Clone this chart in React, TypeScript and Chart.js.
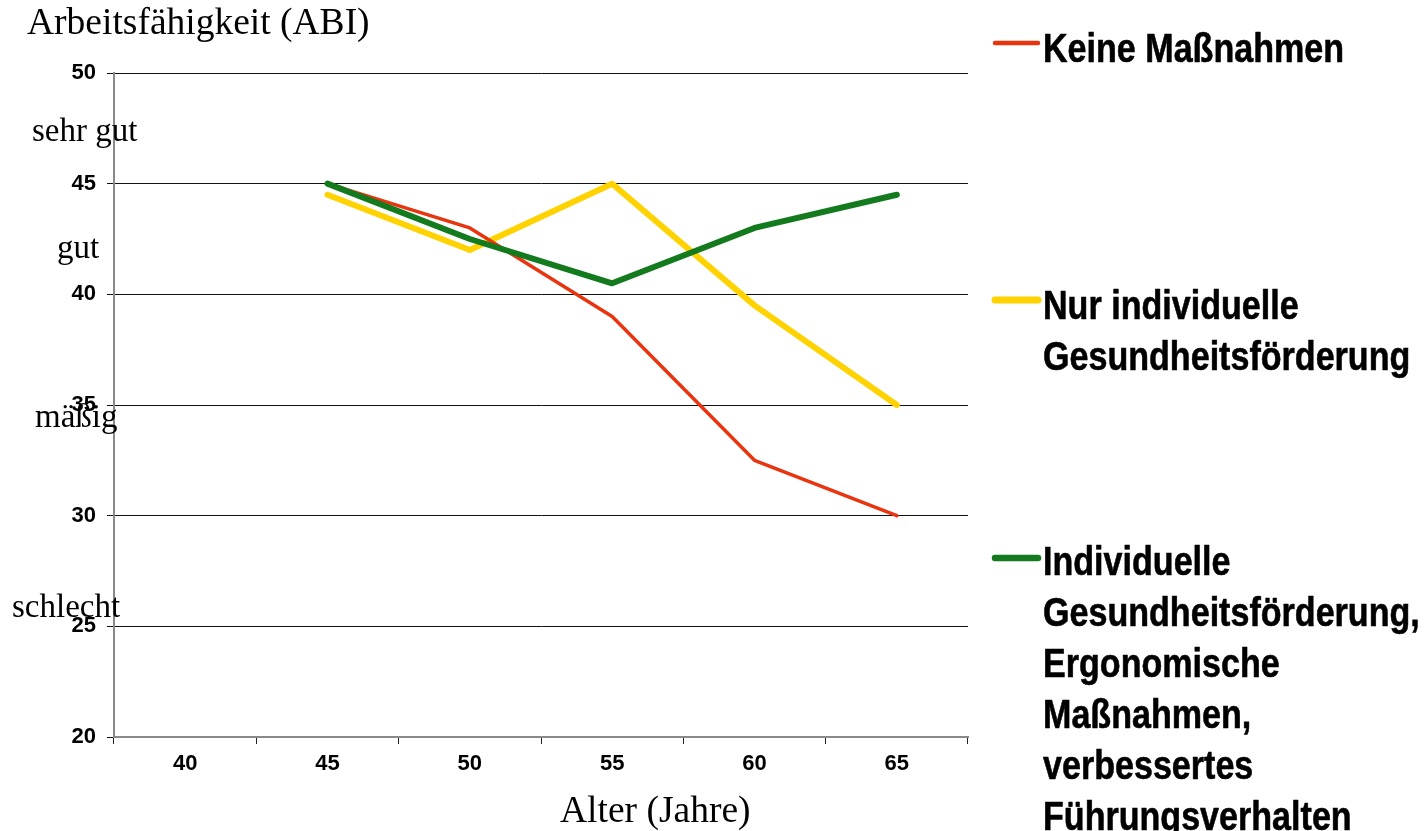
import React, { useEffect, useRef } from "react";
import { Chart, registerables } from "chart.js";

Chart.register(...registerables);

const ages = ["40", "45", "50", "55", "60", "65"];
const keineMassnahmen = [null, 45, 43, 39, 32.5, 30];
const nurIndividuelle = [null, 44.5, 42, 45, 39.5, 35];
const kombiniert = [null, 45, 42.5, 40.5, 43, 44.5];

const seriesNames = [
  ["Keine Maßnahmen"],
  ["Nur individuelle", "Gesundheitsförderung"],
  [
    "Individuelle",
    "Gesundheitsförderung,",
    "Ergonomische",
    "Maßnahmen,",
    "verbessertes",
    "Führungsverhalten",
  ],
];
const seriesColors = ["#e8340f", "#ffd200", "#137a1e"];

const yTitle = "Arbeitsfähigkeit (ABI)";
const xTitle = "Alter (Jahre)";
const levelLabels = ["sehr gut", "gut", "mäßig", "schlecht"];

const SERIF = '"Liberation Serif", "Times New Roman", serif';
const SANS = '"Liberation Sans", Arial, sans-serif';

const overlayPlugin = {
  id: "overlayText",
  afterDraw(chart: any) {
    const ctx = chart.ctx as CanvasRenderingContext2D;
    ctx.save();
    ctx.fillStyle = "#000";
    ctx.textBaseline = "alphabetic";
    ctx.textAlign = "left";
    // titles
    ctx.font = `37.5px ${SERIF}`;
    ctx.fillText(yTitle, 27, 34);
    ctx.fillText(xTitle, 560, 822);
    // level labels
    ctx.font = `33px ${SERIF}`;
    const levelPos = [
      [32, 141],
      [57, 258],
      [35, 427],
      [12, 617],
    ];
    levelLabels.forEach((t, i) => ctx.fillText(t, levelPos[i][0], levelPos[i][1]));

    // legend
    const swatchY = [43, 300, 558];
    const swatchW = [4.5, 7, 6.5];
    const textBase = [62, 319, 575];
    const pitch = 51;
    seriesNames.forEach((lines, i) => {
      ctx.strokeStyle = seriesColors[i];
      ctx.lineWidth = swatchW[i];
      ctx.lineCap = "round";
      ctx.beginPath();
      ctx.moveTo(995, swatchY[i]);
      ctx.lineTo(1038, swatchY[i]);
      ctx.stroke();
      lines.forEach((line, j) => {
        ctx.save();
        ctx.translate(1043, textBase[i] + j * pitch);
        ctx.scale(0.852, 1);
        ctx.font = `bold 40px ${SANS}`;
        ctx.fillStyle = "#000";
        ctx.strokeStyle = "#000";
        ctx.lineWidth = 0.6;
        ctx.lineJoin = "round";
        ctx.fillText(line, 0, 0);
        ctx.strokeText(line, 0, 0);
        ctx.restore();
      });
    });
    ctx.restore();
  },
};

export default function App() {
  const ref = useRef<HTMLCanvasElement | null>(null);
  useEffect(() => {
    if (!ref.current) return;
    const chart = new Chart(ref.current, {
      type: "line",
      data: {
        labels: ages,
        datasets: [
          {
            label: seriesNames[2].join(" "),
            data: kombiniert,
            borderColor: seriesColors[2],
            backgroundColor: seriesColors[2],
            borderWidth: 6,
            order: 0,
          },
          {
            label: seriesNames[0].join(" "),
            data: keineMassnahmen,
            borderColor: seriesColors[0],
            backgroundColor: seriesColors[0],
            borderWidth: 3.5,
            order: 1,
          },
          {
            label: seriesNames[1].join(" "),
            data: nurIndividuelle,
            borderColor: seriesColors[1],
            backgroundColor: seriesColors[1],
            borderWidth: 6,
            order: 2,
          },
        ].map((d) => ({
          ...d,
          pointRadius: 0,
          pointHoverRadius: 0,
          tension: 0,
          borderCapStyle: "round" as const,
          borderJoinStyle: "round" as const,
          spanGaps: false,
        })),
      },
      options: {
        responsive: false,
        animation: false,
        devicePixelRatio: 1,
        layout: { padding: { left: 0, top: 73, right: 457, bottom: 44 } },
        plugins: {
          legend: { display: false },
          tooltip: { enabled: false },
          title: { display: false },
        },
        scales: {
          x: {
            type: "category",
            offset: true,
            afterFit: (s: any) => {
              s.height = 50;
            },
            grid: {
              offset: true,
              drawOnChartArea: false,
              drawTicks: true,
              tickLength: 7,
              color: "#222",
              lineWidth: 1,
            },
            border: { display: true, color: "#8a8a8a", width: 2 },
            ticks: {
              color: "#000",
              padding: 7,
              font: { family: SANS, weight: "bold", size: 22 },
              maxRotation: 0,
            },
          },
          y: {
            min: 20,
            max: 50,
            afterFit: (s: any) => {
              s.width = 114;
            },
            ticks: {
              stepSize: 5,
              color: "#000",
              padding: 11,
              font: { family: SANS, weight: "bold", size: 22 },
            },
            grid: {
              drawOnChartArea: true,
              drawTicks: true,
              tickLength: 7,
              color: "#111",
              lineWidth: 1,
            },
            border: { display: true, color: "#8a8a8a", width: 2 },
          },
        },
      },
      plugins: [overlayPlugin],
    });
    return () => chart.destroy();
  }, []);
  return (
    <div
      style={{
        position: "fixed",
        left: 0,
        top: 0,
        width: 1425,
        height: 831,
        background: "#fff",
      }}
    >
      <canvas ref={ref} width={1425} height={831} style={{ display: "block" }} />
    </div>
  );
}
